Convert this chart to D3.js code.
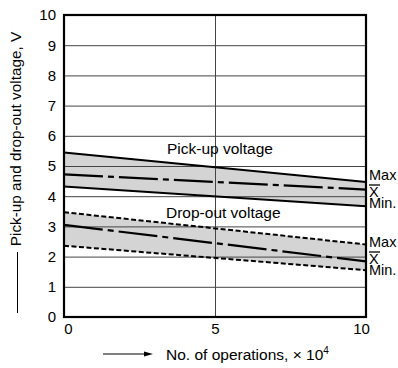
<!DOCTYPE html>
<html><head><meta charset="utf-8">
<script src="https://cdn.jsdelivr.net/npm/d3@7"></script>
<style>
html,body{margin:0;padding:0;background:#fff;}
svg{display:block;font-family:"Liberation Sans",Arial,Helvetica,sans-serif;}
</style></head>
<body>
<svg id="c" width="398" height="368"></svg>
<script>
// ---- data ----
const xOps = [0, 10];
const pickMax = [5.45, 4.47];
const pickMean = [4.72, 4.22];
const pickMin = [4.32, 3.67];
const dropMax = [3.47, 2.40];
const dropMean = [3.05, 1.84];
const dropMin = [2.36, 1.55];
const yTicks = [0,1,2,3,4,5,6,7,8,9,10];
const xTicks = [0,5,10];
const bandLabels = ["Pick-up voltage", "Drop-out voltage"];
const sideLabels = ["Max", "X", "Min."];
const yTitle = "Pick-up and drop-out voltage, V";
const xTitle = "No. of operations, \u00d7 10";
const xTitleSup = "4";

// ---- layout ----
const svg = d3.select("#c");
const L = 64, R = 366, T = 15, B = 317;
const x = d3.scaleLinear().domain([0,10]).range([L,R]);
const y = d3.scaleLinear().domain([0,10]).range([B,T]);

const pts = (a) => xOps.map((v,i)=>[v, a[i]]);
const line = d3.line().x(d=>x(d[0])).y(d=>y(d[1]));
const area = d3.area().x(d=>x(d.x)).y0(d=>y(d.lo)).y1(d=>y(d.hi));
const band = (hi, lo) => xOps.map((v,i)=>({x:v, hi:hi[i], lo:lo[i]}));

// bands fill
svg.append("path").attr("d", area(band(pickMax, pickMin))).attr("fill", "#d4d4d4");
svg.append("path").attr("d", area(band(dropMax, dropMin))).attr("fill", "#d4d4d4");

// gridlines
const gy = svg.append("g").attr("transform", `translate(${L},0)`)
  .call(d3.axisLeft(y).tickValues(yTicks.filter(t=>t>0 && t<10)).tickSize(-(R-L)).tickFormat(""));
gy.select(".domain").remove();
gy.selectAll("line").attr("stroke", "#444").attr("stroke-width", 1);
const gx = svg.append("g").attr("transform", `translate(0,${B})`)
  .call(d3.axisBottom(x).tickValues([5]).tickSize(-(B-T)).tickFormat(""));
gx.select(".domain").remove();
gx.selectAll("line").attr("stroke", "#444").attr("stroke-width", 1);

// y tick labels
const ya = svg.append("g").attr("transform", `translate(${L},0)`)
  .call(d3.axisLeft(y).tickValues(yTicks).tickSize(0).tickPadding(8));
ya.select(".domain").remove();
ya.selectAll("text").attr("font-size", 15).attr("fill", "#000")
  .attr("font-family", '"Liberation Sans",Arial,sans-serif');

// x tick labels
const xa = svg.append("g").attr("transform", `translate(0,${B})`)
  .call(d3.axisBottom(x).tickValues(xTicks).tickSize(0).tickPadding(6));
xa.select(".domain").remove();
xa.selectAll("text").attr("font-size", 15).attr("fill", "#000")
  .attr("font-family", '"Liberation Sans",Arial,sans-serif')
  .attr("dx", d => d===0 ? 4 : (d===10 ? -5 : 0));

// lines
const drawLine = (a, dash, w) => svg.append("path").attr("d", line(pts(a)))
  .attr("fill","none").attr("stroke","#000").attr("stroke-width", w)
  .attr("stroke-dasharray", dash);
drawLine(pickMax, null, 2);
drawLine(pickMin, null, 2);
drawLine(pickMean, "39,5,6,5", 2.2);
drawLine(dropMax, "5,2.5", 2);
drawLine(dropMin, "5,2.5", 2);
drawLine(dropMean, "39,5,6,5", 2.2);

// frame
svg.append("rect").attr("x", L).attr("y", T).attr("width", R-L).attr("height", B-T)
  .attr("fill","none").attr("stroke","#000").attr("stroke-width", 2.2);

// band labels
svg.append("text").attr("x", 167).attr("y", 154).attr("font-size", 15.5).text(bandLabels[0]);
svg.append("text").attr("x", 166).attr("y", 218).attr("font-size", 15.5).text(bandLabels[1]);

// side labels
const sideY = [[180, 197, 208], [247, 264, 275]];
sideY.forEach(g => {
  g.forEach((yy, i) => {
    svg.append("text").attr("x", 369).attr("y", yy).attr("font-size", 14.5).text(sideLabels[i]);
  });
  svg.append("line").attr("x1", 369).attr("x2", 380).attr("y1", g[1]-12).attr("y2", g[1]-12)
    .attr("stroke", "#000").attr("stroke-width", 1.3);
});

// y title
svg.append("text").attr("transform", "translate(21,139) rotate(-90)")
  .attr("text-anchor","middle").attr("font-size", 15.3).text(yTitle);
svg.append("line").attr("x1", 17.5).attr("x2", 17.5).attr("y1", 252).attr("y2", 313)
  .attr("stroke","#000").attr("stroke-width", 1);

// x title
const xt = svg.append("text").attr("x", 166).attr("y", 360).attr("font-size", 15.5);
xt.append("tspan").text(xTitle);
xt.append("tspan").attr("font-size", 10).attr("dy", -6).text(xTitleSup);
svg.append("line").attr("x1", 103).attr("x2", 146).attr("y1", 354).attr("y2", 354)
  .attr("stroke","#000").attr("stroke-width", 1);
svg.append("path").attr("d", "M153,354 L144,351.5 L144,356.5 Z").attr("fill","#000");
</script>
</body></html>
